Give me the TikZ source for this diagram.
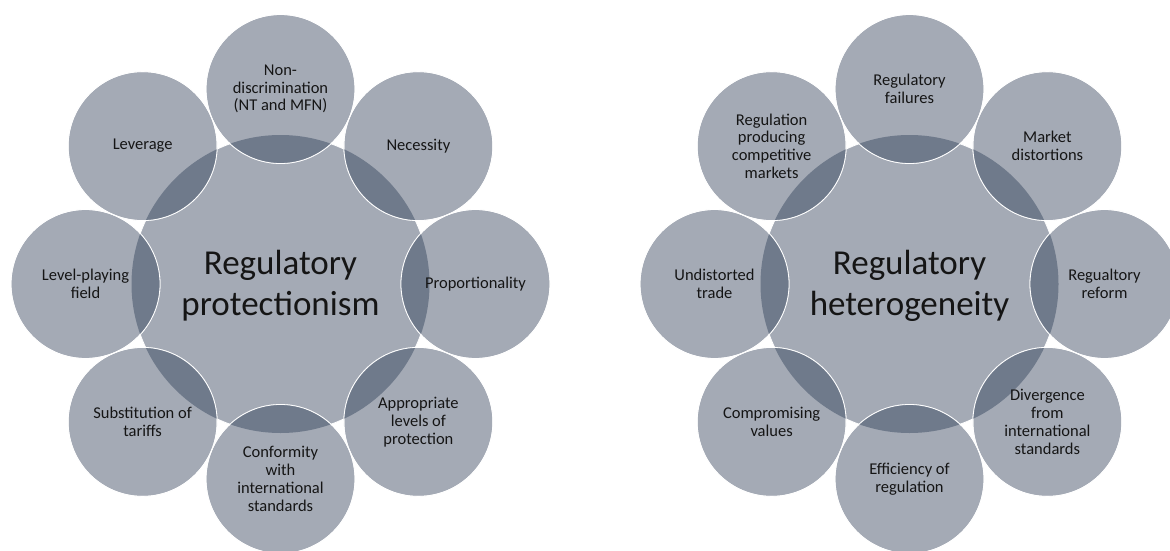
\documentclass[tikz,border=0pt]{standalone}
\usepackage{fontspec}
\setmainfont{Carlito}
\definecolor{circfill}{HTML}{A4AAB5}
\definecolor{overlapfill}{HTML}{6F7A8B}
\definecolor{textcol}{HTML}{151515}
\tikzset{
  hub/.style={circle, fill=circfill, draw=white, line width=0.8pt, minimum size=298pt, inner sep=0pt},
  sat/.style={circle, fill=circfill, draw=white, line width=0.8pt, minimum size=149pt, inner sep=0pt},
  satline/.style={draw=white, line width=0.8pt},
  sattext/.style={align=center, text=textcol, inner sep=0pt, font=\fontsize{16.5}{17.8}\selectfont},
  hubtext/.style={align=center, text=textcol, inner sep=0pt, font=\fontsize{35}{41}\selectfont}
}
\def\leftitems{90/{Non-\\discrimination\\(NT and MFN)},45/Necessity,0/Proportionality,-45/{Appropriate\\levels of\\protection},-90/{Conformity\\with\\international\\standards},-135/{Substitution of\\tariffs},180/{Level-playing\\field},135/Leverage}
\def\rightitems{90/{Regulatory\\failures},45/{Market\\distortions},0/{Regualtory\\reform},-45/{Divergence\\from\\international\\standards},-90/{Efficiency of\\regulation},-135/{Compromising\\values},180/{Undistorted\\trade},135/{Regulation\\producing\\competitive\\markets}}
\begin{document}
\begin{tikzpicture}[x=1pt,y=-1pt]
\useasboundingbox (0,0) rectangle (1170,551);
\clip (0,0) rectangle (1170,551);
% hubs
\node[hub] (LH) at (280.5,284) {};
\node[hub] (RH) at (909.5,284) {};
% satellites
\foreach \a/\t [count=\k] in \leftitems {
  \node[sat] (L\k) at ([shift={(\a:195pt)}]LH.center) {};
}
\foreach \a/\t [count=\k] in \rightitems {
  \node[sat] (R\k) at ([shift={(\a:195pt)}]RH.center) {};
}
% darker overlaps
\begin{scope}
  \clip (LH.center) circle [radius=149pt];
  \foreach \k in {1,...,8} { \fill[overlapfill] (L\k.center) circle [radius=74.5pt]; }
\end{scope}
\begin{scope}
  \clip (RH.center) circle [radius=149pt];
  \foreach \k in {1,...,8} { \fill[overlapfill] (R\k.center) circle [radius=74.5pt]; }
\end{scope}
% white outlines of satellites
\foreach \k in {1,...,8} {
  \draw[satline] (L\k.center) circle [radius=74.5pt];
  \draw[satline] (R\k.center) circle [radius=74.5pt];
}
% texts
\foreach \a/\t [count=\k] in \leftitems {
  \node[sattext] (LT\k) at (L\k.center) {\t};
}
\foreach \a/\t [count=\k] in \rightitems {
  \node[sattext] (RT\k) at (R\k.center) {\t};
}
\node[hubtext] (LHT) at ([yshift=-2pt]LH.center) {Regulatory\\protectionism};
\node[hubtext] (RHT) at ([yshift=-2pt]RH.center) {Regulatory\\heterogeneity};
\end{tikzpicture}
\end{document}
